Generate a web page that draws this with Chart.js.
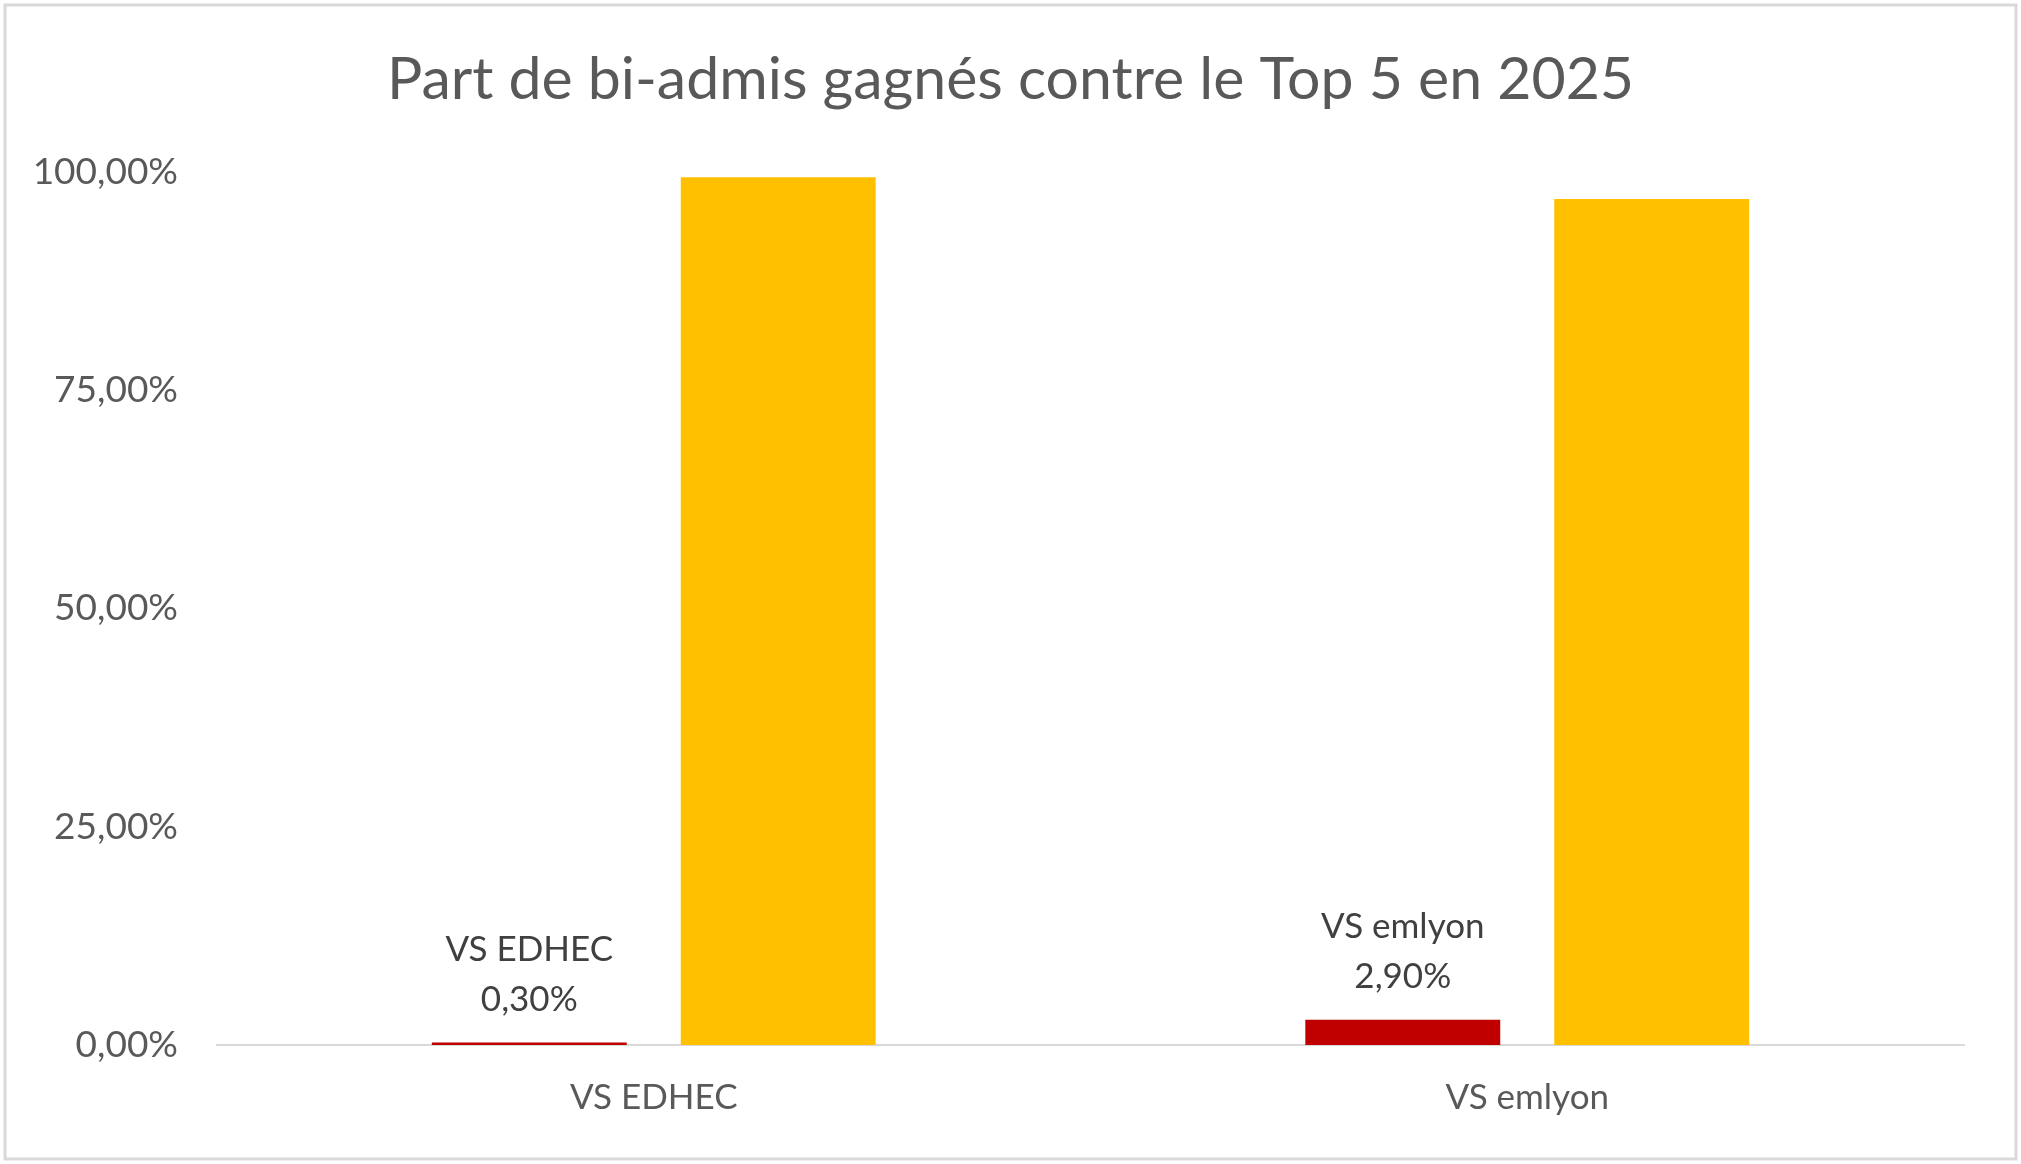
<!DOCTYPE html>
<html>
<head>
<meta charset="utf-8">
<script src="https://cdn.jsdelivr.net/npm/chart.js@4.4.1/dist/chart.umd.min.js"></script>
<style>
  html, body { margin: 0; padding: 0; background: #fff; }
  #wrap { width: 2021px; height: 1164px; position: relative; }
</style>
</head>
<body>
<div id="wrap"><canvas id="partChart"></canvas></div>
<script>
// données du graphique
const titre = "Part de bi-admis gagnés contre le Top 5 en 2025";
const categories = ["VS EDHEC", "VS emlyon"];
const partPerdus = [0.3, 2.9];     // barres rouges
const partGagnes = [99.4, 96.9];   // barres jaunes
const yTicks = [0, 25, 50, 75, 100];

const fmt = v => v.toFixed(2).replace('.', ',') + '%';

// fond blanc, cadre gris et titre centré sur toute la largeur
const cadre = {
    id: 'cadre',
    beforeDraw(chart) {
        const c = chart.ctx;
        c.save();
        c.fillStyle = '#ffffff';
        c.fillRect(0, 0, chart.width, chart.height);
        c.strokeStyle = '#d9d9d9';
        c.lineWidth = 3;
        c.strokeRect(5, 5, chart.width - 10, chart.height - 10);
        c.fillStyle = '#595959';
        c.font = '59px Lato';
        c.textAlign = 'center';
        c.textBaseline = 'middle';
        c.fillText(titre, chart.width / 2, 80);
        c.restore();
    }
};

// étiquettes au-dessus des barres rouges
const etiquettes = {
    id: 'etiquettes',
    afterDatasetsDraw(chart) {
        const c = chart.ctx;
        const meta = chart.getDatasetMeta(0);
        c.save();
        c.fillStyle = '#404040';
        c.font = '35px Lato';
        c.textAlign = 'center';
        c.textBaseline = 'middle';
        meta.data.forEach((bar, i) => {
            c.fillText(fmt(partPerdus[i]), bar.x, bar.y - 43);
            c.fillText(categories[i], bar.x, bar.y - 93);
        });
        c.restore();
    }
};

new Chart(document.getElementById('partChart'), {
    type: 'bar',
    data: {
        labels: categories,
        datasets: [{
            label: "Perdus",
            data: partPerdus,
            backgroundColor: "#C00000",
            categoryPercentage: 0.57,
            barPercentage: 0.783
        }, {
            label: "Gagnés",
            data: partGagnes,
            backgroundColor: "#FFC000",
            categoryPercentage: 0.57,
            barPercentage: 0.783
        }]
    },
    options: {
        responsive: true,
        maintainAspectRatio: false,
        animation: false,
        layout: { padding: { left: 10, right: 57, top: 172, bottom: 13 } },
        plugins: {
            legend: { display: false },
            tooltip: { enabled: false },
            title: { display: false }
        },
        scales: {
            x: {
                grid: { display: false, drawTicks: false },
                border: { display: true, color: '#d9d9d9', width: 2 },
                ticks: { color: '#595959', font: { family: 'Lato', size: 35 }, padding: 32 }
            },
            y: {
                min: 0,
                max: 100,
                afterBuildTicks(scale) { scale.ticks = yTicks.map(v => ({ value: v })); },
                afterFit(scale) { scale.width = 207; },
                grid: { display: false, drawTicks: false },
                border: { display: false },
                ticks: {
                    color: '#595959',
                    font: { family: 'Lato', size: 37 },
                    padding: 39,
                    callback: v => fmt(v)
                }
            }
        }
    },
    plugins: [cadre, etiquettes]
});
</script>
</body>
</html>
